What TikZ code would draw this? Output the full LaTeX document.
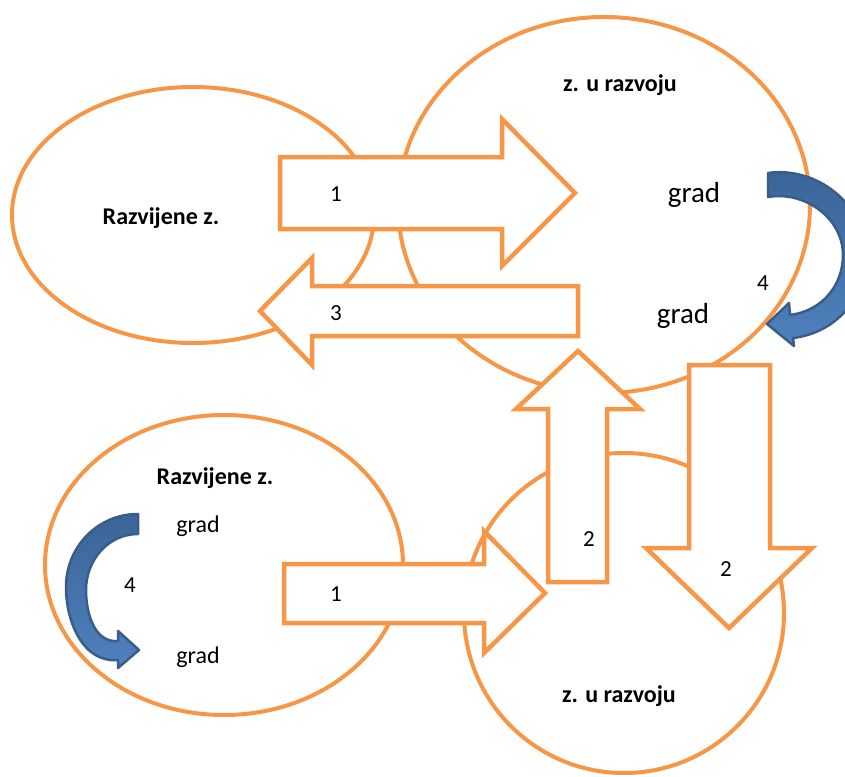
\documentclass[tikz,border=0pt]{standalone}
\usepackage{fontspec}
\setmainfont{Carlito}
\usetikzlibrary{shapes.geometric}
\definecolor{zoneorange}{HTML}{F79646}
\definecolor{bendblue}{HTML}{385D8A}
\definecolor{banddark}{HTML}{3A6497}
\definecolor{bandlight}{HTML}{4F81BD}
\tikzset{
    zone/.style={
        ellipse,
        draw=zoneorange,
        line width=4pt,
        inner sep=0pt,
    },
    blockarrow/.style={
        draw=zoneorange,
        fill=white,
        line width=4.5pt,
        line join=miter,
    },
    curvearrow/.style={
        draw=bendblue,
        line width=2.5pt,
        top color=banddark,
        bottom color=bandlight,
        line join=round,
    },
    zonetitle/.style={
        font=\bfseries\fontsize{24}{28}\selectfont,
        anchor=base,
    },
    town/.style={
        font=\fontsize{24}{28}\selectfont,
        anchor=base,
    },
    bigtown/.style={
        font=\fontsize{29}{34}\selectfont,
        anchor=base,
    },
    flownum/.style={
        font=\fontsize{23}{28}\selectfont,
        anchor=base,
    },
}
\begin{document}
\begin{tikzpicture}[x=1pt,y=-1pt]
                    \useasboundingbox (0,0) rectangle (845,776);

                    % Zones
                    \node [zone, minimum width=362, minimum height=256] (devTop) at (193,215) {};
                    \node [zone, minimum width=412, minimum height=376] (growTop) at (604,205) {};
                    \node [zone, minimum width=358, minimum height=300] (devBot) at (224,565) {};
                    \node [zone, minimum width=320, minimum height=320] (growBot) at (624,613) {};

                    % Block arrows
                    \draw [blockarrow] (280,157) -- (502,157) -- (502,119) -- (575,193)
                        -- (502,266) -- (502,229) -- (280,229) -- cycle;
                    \draw [blockarrow] (578,286) -- (312,286) -- (312,258) -- (260,311)
                        -- (312,365) -- (312,336) -- (578,336) -- cycle;
                    \draw [blockarrow] (548,582) -- (548,409) -- (516,409) -- (578,351)
                        -- (640,409) -- (607,409) -- (607,582) -- cycle;
                    \draw [blockarrow] (689,365) -- (770,365) -- (770,548) -- (812,548)
                        -- (729,628) -- (646,548) -- (689,548) -- cycle;
                    \draw [blockarrow] (284,564) -- (484,564) -- (484,531) -- (545,593)
                        -- (484,653) -- (484,623) -- (284,623) -- cycle;

                    % Curved arrows
                    \draw [curvearrow] (768,173) to[out=8,in=90] (866,255) to[out=-90,in=7] (793,338)
                        -- (794,346) -- (767,324) -- (789,303) -- (790,315)
                        to[out=7,in=-90] (843,255) to[out=90,in=10] (768,197) -- cycle;
                    \draw [curvearrow] (138,514) to[out=180,in=90] (66,587) to[out=-90,in=185] (118,660)
                        -- (118,668) -- (139,650) -- (118,631) -- (118,641)
                        to[out=185,in=-90] (86,590) to[out=90,in=180] (138,534) -- cycle;

                    % Labels
                    \node [zonetitle] (tDevTop) at (161,224) {Razvijene z.};
                    \node [zonetitle] (tGrowTop) at (620,91) {z. u razvoju};
                    \node [zonetitle] (tDevBot) at (215,484) {Razvijene z.};
                    \node [zonetitle] (tGrowBot) at (619,702) {z. u razvoju};

                    \node [bigtown] (gradA) at (694,202) {grad};
                    \node [bigtown] (gradB) at (683,323) {grad};
                    \node [town] (gradC) at (198,532) {grad};
                    \node [town] (gradD) at (198,663) {grad};

                    \node [flownum] (nOneTop) at (336,201) {1};
                    \node [flownum] (nThree) at (336,320) {3};
                    \node [flownum] (nTwoUp) at (589,546) {2};
                    \node [flownum] (nTwoDown) at (726,576) {2};
                    \node [flownum] (nOneBot) at (336,601) {1};
                    \node [flownum] (nFourTop) at (763,290) {4};
                    \node [flownum] (nFourBot) at (130,592) {4};
                \end{tikzpicture}
\end{document}
